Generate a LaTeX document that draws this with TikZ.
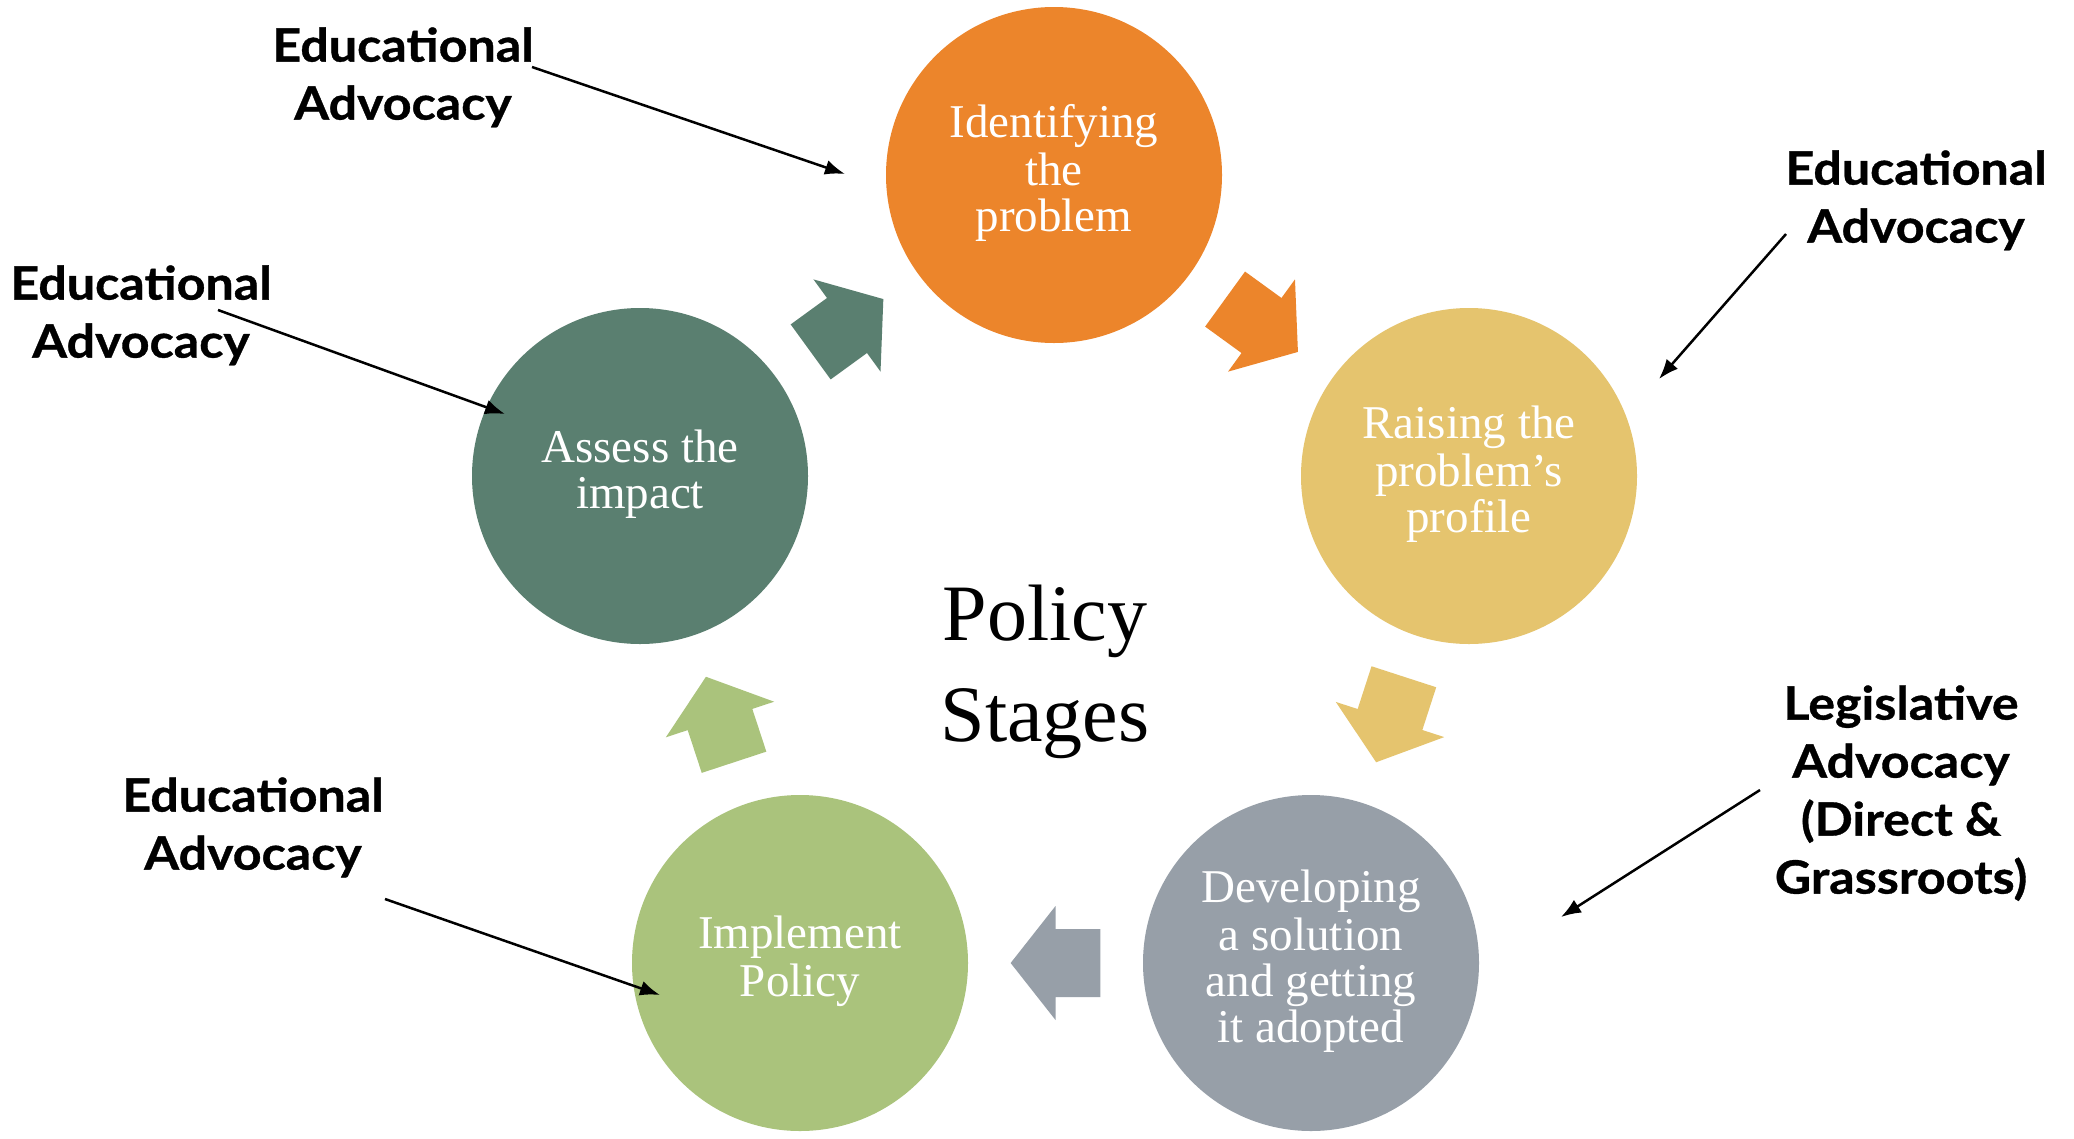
\documentclass[tikz,border=0pt]{standalone}
\usepackage{fontspec}
\setmainfont{Liberation Serif}
\newfontfamily\labfont{Lato}[BoldFeatures={FakeStretch=1.09,FakeBold=0.8}]
\usetikzlibrary{calc,arrows.meta}
\definecolor{cOrange}{HTML}{EC852B}
\definecolor{cYellow}{HTML}{E5C46E}
\definecolor{cGrey}{HTML}{979FA8}
\definecolor{cLight}{HTML}{AAC37C}
\definecolor{cDark}{HTML}{5A7F70}
% block arrow centred on the segment between two stage nodes
\newcommand\blockarr[3]{%
  \path ($(#1)!0.41223!(#2)$) coordinate (bk)
        ($(#1)!0.5!(#2)$) coordinate (hd)
        ($(#1)!0.58777!(#2)$) coordinate (tp);
  \fill[#3] ($(bk)!34pt!90:(#2)$) -- ($(hd)!34pt!90:(#2)$) -- ($(hd)!57pt!90:(#2)$)
     -- (tp) -- ($(hd)!57pt!-90:(#2)$) -- ($(hd)!34pt!-90:(#2)$) -- ($(bk)!34pt!-90:(#2)$) -- cycle;}
\begin{document}
\begin{tikzpicture}[x=1pt,y=-1pt,
  stage/.style={circle,minimum size=336pt,inner sep=0pt,text=white,align=center,
    font=\fontsize{47}{46}\selectfont},
  lab/.style={align=center,inner sep=0pt,font=\labfont\bfseries\fontsize{46}{58}\selectfont},
  pointer/.style={line width=2.5pt,-{Latex[length=20pt,width=15pt]}}]
\useasboundingbox (0,0) rectangle (2074,1138);
\fill[white] (0,0) rectangle (2074,1138);

% stages
\node[stage,fill=cOrange] (s1) at (1054,175) {\strut Identifying\\the\\problem\strut};
\node[stage,fill=cYellow] (s2) at (1469,476) {\strut Raising the\\problem’s\\profile\strut};
\node[stage,fill=cGrey]   (s3) at (1311,963) {\strut Developing\\a solution\\and getting\\it adopted\strut};
\node[stage,fill=cLight]  (s4) at (800,963)  {\strut Implement\\Policy\strut};
\node[stage,fill=cDark]   (s5) at (640,476)  {\strut Assess the\\impact\strut};

% block arrows
\blockarr{s1}{s2}{cOrange}
\blockarr{s2}{s3}{cYellow}
\blockarr{s3}{s4}{cGrey}
\blockarr{s4}{s5}{cLight}
\blockarr{s5}{s1}{cDark}

% centre title
\node[align=center,inner sep=0pt,font=\fontsize{80}{101}\selectfont] (title) at (1045,671)
  {\strut Policy\\Stages\strut};

% labels
\node[lab] (l1) at (403,79)   {\strut Educational\\Advocacy\strut};
\node[lab] (l2) at (1916,202) {\strut Educational\\Advocacy\strut};
\node[lab] (l3) at (141,317)  {\strut Educational\\Advocacy\strut};
\node[lab] (l4) at (253,829)  {\strut Educational\\Advocacy\strut};
\node[lab] (l5) at (1901,795) {\strut Legislative\\Advocacy\\(Direct \&\\Grassroots)\strut};

% pointers
\coordinate (p1s) at (532,67);   \coordinate (p1e) at (845,174);
\coordinate (p2s) at (1786,234); \coordinate (p2e) at (1659,379);
\coordinate (p3s) at (218,310);  \coordinate (p3e) at (505,414);
\coordinate (p4s) at (385,899);  \coordinate (p4e) at (660,995);
\coordinate (p5s) at (1760,790); \coordinate (p5e) at (1561,917);
\draw[pointer] (p1s) -- (p1e);
\draw[pointer] (p2s) -- (p2e);
\draw[pointer] (p3s) -- (p3e);
\draw[pointer] (p4s) -- (p4e);
\draw[pointer] (p5s) -- (p5e);
\end{tikzpicture}
\end{document}
